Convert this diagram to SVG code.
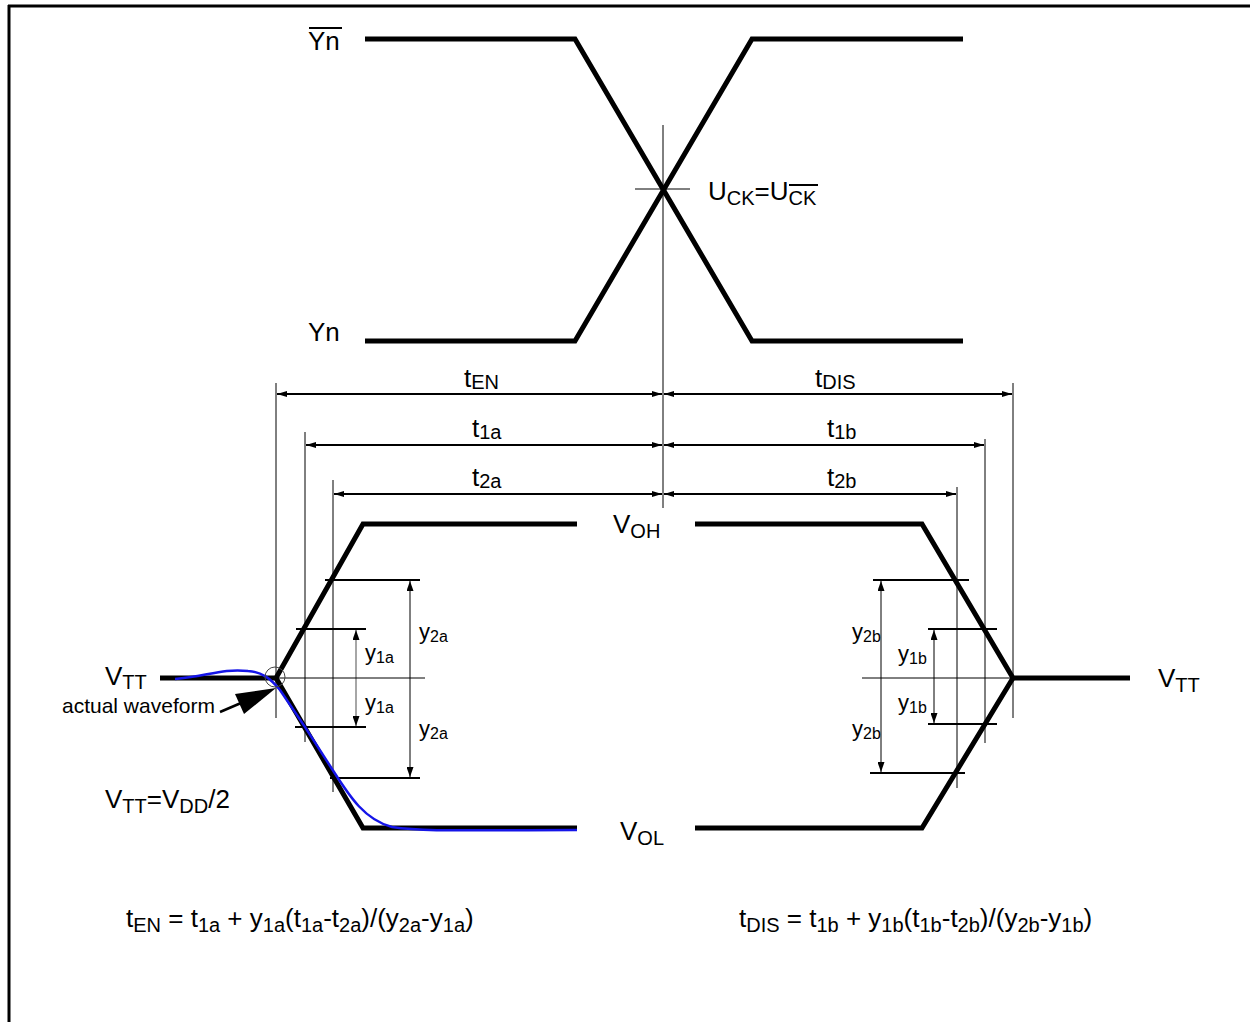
<svg xmlns="http://www.w3.org/2000/svg" width="1250" height="1022" viewBox="0 0 1250 1022">
<defs>
<style>
.lbl{font-family:"Liberation Sans",Arial,sans-serif;font-size:26px;fill:#000}
.sm{font-family:"Liberation Sans",Arial,sans-serif;font-size:22px;fill:#000}
.sub{font-size:20px}
.ssub{font-size:16px}
.wave{fill:none;stroke:#000;stroke-width:5;stroke-linejoin:miter}
.thin{fill:none;stroke:#000;stroke-width:1}
.tick{fill:none;stroke:#000;stroke-width:2}
.dim{fill:none;stroke:#000;stroke-width:2;marker-start:url(#ah);marker-end:url(#ah)}
.vdim{fill:none;stroke:#000;stroke-width:1;marker-start:url(#ah2);marker-end:url(#ah2)}
</style>
<marker id="ah" viewBox="0 0 10 6" refX="10" refY="3" markerWidth="10" markerHeight="6" markerUnits="userSpaceOnUse" orient="auto-start-reverse"><path d="M0,0 L10,3 L0,6 z" fill="#000"/></marker>
<marker id="ah2" viewBox="0 0 10 7" refX="10" refY="3.5" markerWidth="10" markerHeight="7" markerUnits="userSpaceOnUse" orient="auto-start-reverse"><path d="M0,0 L10,3.5 L0,7 z" fill="#000"/></marker>
</defs>
<rect width="1250" height="1022" fill="#fff"/>
<g id="frame">
<line x1="8" y1="6" x2="1250" y2="6" stroke="#000" stroke-width="3"/>
<line x1="9" y1="5" x2="9" y2="1022" stroke="#000" stroke-width="3"/>
</g>
<g id="clock-waveform">
<path class="wave" d="M365,39 H575 L752,341 H963"/>
<path class="wave" d="M365,341 H575 L752,39 H963"/>
<text class="lbl" x="308" y="50">Yn</text>
<line x1="309" y1="28" x2="342" y2="28" stroke="#000" stroke-width="2"/>
<text class="lbl" x="308" y="341">Yn</text>
<line class="thin" x1="635" y1="189" x2="690" y2="189"/>
<text class="lbl" x="708" y="200">U<tspan class="sub" dy="5">CK</tspan><tspan dy="-5">=U</tspan><tspan class="sub" dy="5">CK</tspan></text>
<line x1="789" y1="185" x2="818" y2="185" stroke="#000" stroke-width="2"/>
</g>
<g id="connectors">
<line class="thin" x1="663" y1="125" x2="663" y2="508"/>
<line class="thin" x1="276" y1="383" x2="276" y2="718"/>
<line class="thin" x1="305" y1="432" x2="305" y2="742"/>
<line class="thin" x1="333" y1="480" x2="333" y2="792"/>
<line class="thin" x1="1013" y1="383" x2="1013" y2="718"/>
<line class="thin" x1="985" y1="439" x2="985" y2="743"/>
<line class="thin" x1="957" y1="487" x2="957" y2="788"/>
<line class="dim" x1="277" y1="394" x2="662" y2="394"/>
<line class="dim" x1="306" y1="445" x2="662" y2="445"/>
<line class="dim" x1="334" y1="494" x2="662" y2="494"/>
<line class="dim" x1="664" y1="394" x2="1012" y2="394"/>
<line class="dim" x1="664" y1="445" x2="984" y2="445"/>
<line class="dim" x1="664" y1="494" x2="956" y2="494"/>
<line x1="356" y1="630" x2="356" y2="726" stroke="#888" stroke-width="1.5" marker-start="url(#ah2)" marker-end="url(#ah2)"/>
<line class="vdim" x1="410" y1="581" x2="410" y2="777"/>
<line class="vdim" x1="881" y1="581" x2="881" y2="772"/>
<line class="vdim" x1="934" y1="630" x2="934" y2="723"/>
</g>
<g id="dim-labels">
<text class="lbl" x="464" y="387">t<tspan class="sub" dy="2">EN</tspan></text>
<text class="lbl" x="472" y="437">t<tspan class="sub" dy="2">1a</tspan></text>
<text class="lbl" x="472" y="486">t<tspan class="sub" dy="2">2a</tspan></text>
<text class="lbl" x="815" y="387">t<tspan class="sub" dy="2">DIS</tspan></text>
<text class="lbl" x="827" y="437">t<tspan class="sub" dy="2">1b</tspan></text>
<text class="lbl" x="827" y="486">t<tspan class="sub" dy="2">2b</tspan></text>
</g>
<g id="output-waveform">
<path class="wave" d="M577,524 H363 L276,678 H160"/>
<path class="wave" d="M276,678 L363,828 H577"/>
<path class="wave" d="M695,524 H922 L1013,678 H1130"/>
<path class="wave" d="M695,828 H922 L1013,678"/>
<line class="thin" x1="276" y1="678" x2="425" y2="678"/>
<line class="thin" x1="862" y1="678" x2="1013" y2="678"/>
<line class="tick" x1="325" y1="580" x2="420" y2="580"/>
<line class="tick" x1="296" y1="629" x2="366" y2="629"/>
<line class="tick" x1="295" y1="727" x2="366" y2="727"/>
<line class="tick" x1="330" y1="778" x2="420" y2="778"/>
<line class="tick" x1="873" y1="580" x2="969" y2="580"/>
<line class="tick" x1="928" y1="629" x2="997" y2="629"/>
<line class="tick" x1="928" y1="724" x2="997" y2="724"/>
<line class="tick" x1="870" y1="773" x2="965" y2="773"/>
<path d="M175,679 C205,677 222,668 248,671 C262,672 270,678 280,690 L305,727 L334,772 C350,797 365,820 392,827 C425,832 470,830 577,830" fill="none" stroke="#1515e8" stroke-width="2.5"/>
<circle cx="275" cy="677" r="10" fill="none" stroke="#444" stroke-width="1"/>
<line x1="220" y1="712" x2="241" y2="703" stroke="#000" stroke-width="2.5"/>
<polygon points="276,688 235,694 244,714" fill="#000"/>
</g>
<g id="output-labels">
<text class="sm" x="419" y="639">y<tspan class="ssub" dy="3">2a</tspan></text>
<text class="sm" x="365" y="660">y<tspan class="ssub" dy="3">1a</tspan></text>
<text class="sm" x="365" y="710">y<tspan class="ssub" dy="3">1a</tspan></text>
<text class="sm" x="419" y="736">y<tspan class="ssub" dy="3">2a</tspan></text>
<text class="sm" x="852" y="639">y<tspan class="ssub" dy="3">2b</tspan></text>
<text class="sm" x="898" y="661">y<tspan class="ssub" dy="3">1b</tspan></text>
<text class="sm" x="898" y="710">y<tspan class="ssub" dy="3">1b</tspan></text>
<text class="sm" x="852" y="736">y<tspan class="ssub" dy="3">2b</tspan></text>
<text class="lbl" x="613" y="533">V<tspan class="sub" dy="5">OH</tspan></text>
<text class="lbl" x="620" y="840">V<tspan class="sub" dy="5">OL</tspan></text>
<text class="lbl" x="105" y="685">V<tspan class="sub" dy="4">TT</tspan></text>
<text class="lbl" x="1158" y="687">V<tspan class="sub" dy="5">TT</tspan></text>
<text class="sm" x="62" y="713" style="font-size:21px">actual waveform</text>
<text class="lbl" x="105" y="808">V<tspan class="sub" dy="5">TT</tspan><tspan dy="-5">=V</tspan><tspan class="sub" dy="5">DD</tspan><tspan dy="-5">/2</tspan></text>
</g>
<g id="formulas">
<text class="lbl" x="126" y="927">t<tspan class="sub" dy="5">EN</tspan><tspan dy="-5"> = t</tspan><tspan class="sub" dy="5">1a</tspan><tspan dy="-5"> + y</tspan><tspan class="sub" dy="5">1a</tspan><tspan dy="-5">(t</tspan><tspan class="sub" dy="5">1a</tspan><tspan dy="-5">-t</tspan><tspan class="sub" dy="5">2a</tspan><tspan dy="-5">)/(y</tspan><tspan class="sub" dy="5">2a</tspan><tspan dy="-5">-y</tspan><tspan class="sub" dy="5">1a</tspan><tspan dy="-5">)</tspan></text>
<text class="lbl" x="739" y="927">t<tspan class="sub" dy="5">DIS</tspan><tspan dy="-5"> = t</tspan><tspan class="sub" dy="5">1b</tspan><tspan dy="-5"> + y</tspan><tspan class="sub" dy="5">1b</tspan><tspan dy="-5">(t</tspan><tspan class="sub" dy="5">1b</tspan><tspan dy="-5">-t</tspan><tspan class="sub" dy="5">2b</tspan><tspan dy="-5">)/(y</tspan><tspan class="sub" dy="5">2b</tspan><tspan dy="-5">-y</tspan><tspan class="sub" dy="5">1b</tspan><tspan dy="-5">)</tspan></text>
</g>
</svg>
